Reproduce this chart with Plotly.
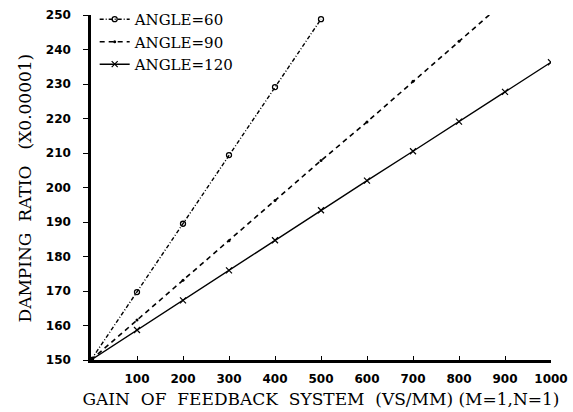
import plotly.graph_objects as go

gain60 = [0, 100, 200, 300, 400, 500]
damp60 = [150, 169.7, 189.5, 209.4, 229.1, 248.8]

gain90 = [0, 100, 200, 300, 400, 500, 600, 700, 800, 900]
damp90 = [150, 161.6, 173.1, 184.6, 196.2, 207.8, 219.0, 230.8, 242.4, 254.0]

gain120 = [0, 100, 200, 300, 400, 500, 600, 700, 800, 900, 1000]
damp120 = [150, 158.7, 167.3, 176.0, 184.7, 193.4, 202.0, 210.5, 219.1, 227.7, 236.3]

x_ticks = [100, 200, 300, 400, 500, 600, 700, 800, 900, 1000]
y_ticks = [150, 160, 170, 180, 190, 200, 210, 220, 230, 240, 250]

fig = go.Figure()
fig.add_trace(go.Scatter(x=gain60, y=damp60, name="ANGLE=60", mode="lines+markers",
                         line=dict(color="black", width=1.4, dash="4px,2px,1px,2px"),
                         marker=dict(symbol="circle-open", size=5, color="black", line=dict(width=1.3))))
fig.add_trace(go.Scatter(x=gain90, y=damp90, name="ANGLE=90", mode="lines+markers",
                         line=dict(color="black", width=1.6, dash="5px,4px"),
                         marker=dict(symbol="circle", size=3, color="black")))
fig.add_trace(go.Scatter(x=gain120, y=damp120, name="ANGLE=120", mode="lines+markers",
                         line=dict(color="black", width=1.4),
                         marker=dict(symbol="x-thin", size=6, color="black", line=dict(width=1.2, color="black"))))

tick_font = dict(family="DejaVu Sans", size=12, color="black", weight="bold")
title_font = dict(family="DejaVu Serif", size=17, color="black")

fig.update_layout(
    width=573, height=412,
    margin=dict(l=91, r=22, t=15, b=52, autoexpand=False),
    paper_bgcolor="white", plot_bgcolor="white",
    showlegend=True,
    legend=dict(x=0.008, y=1.035, xanchor="left", yanchor="top",
                font=dict(family="DejaVu Serif", size=15, color="black"),
                bgcolor="rgba(0,0,0,0)", tracegroupgap=0),
    xaxis=dict(range=[0, 1000], tickvals=x_ticks, ticktext=[str(v) for v in x_ticks],
               automargin=False,
               showgrid=False, zeroline=False, showline=True, linecolor="black", linewidth=2.5,
               ticks="inside", ticklen=4, tickcolor="black", ticklabelstandoff=6,
               tickfont=tick_font,
               title=dict(text="GAIN  OF  FEEDBACK  SYSTEM  (VS/MM) (M=1,N=1)",
                          font=title_font, standoff=8)),
    yaxis=dict(range=[150, 250], tickvals=y_ticks, ticktext=[str(v) for v in y_ticks],
               automargin=False,
               showgrid=False, zeroline=False, showline=True, linecolor="black", linewidth=2.5,
               ticks="outside", ticklen=5, tickcolor="black", ticklabelstandoff=10,
               tickfont=tick_font),
    annotations=[dict(text="DAMPING  RATIO   (X0.00001)", xref="paper", yref="paper",
                      x=-0.1435, y=0.5, xanchor="center", yanchor="middle",
                      textangle=-90, showarrow=False, font=title_font)],
)

fig.write_html("out.html")
